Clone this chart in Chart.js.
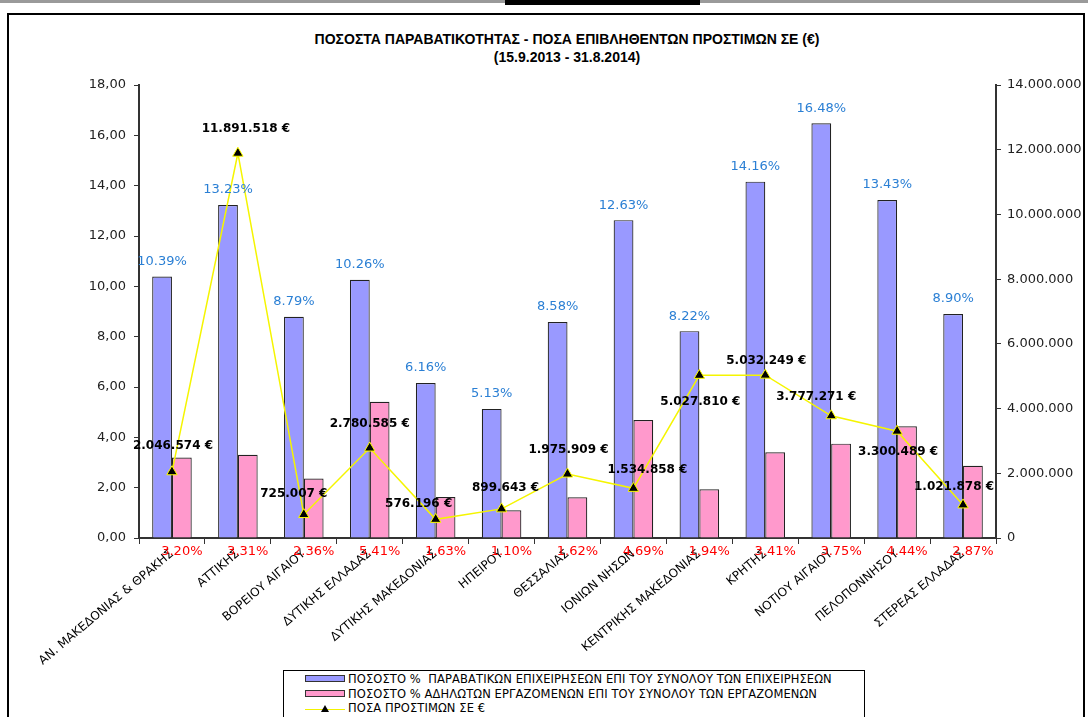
<!DOCTYPE html>
<html>
<head>
<meta charset="utf-8">
<script src="https://cdn.jsdelivr.net/npm/chart.js@4.4.1/dist/chart.umd.min.js"></script>
<style>
  body { margin: 0; background: #fff; width: 1088px; height: 717px; overflow: hidden; position: relative; font-family: "DejaVu Sans", sans-serif; }
  #topline { position: absolute; left: 0; top: 0; width: 1088px; height: 3px; background: #9a9a9a; }
  #tab { position: absolute; left: 505px; top: 0; width: 195px; height: 5px; background: #000; }
  #frame { position: absolute; left: 7px; top: 13px; width: 1074px; height: 720px; border: 2px solid #000; }
  #title { position: absolute; left: 0; top: 30px; width: 1134px; text-align: center; font: bold 14px "Liberation Sans", sans-serif; line-height: 18px; color: #000; }
  canvas { position: absolute; left: 0; top: 0; }
  #legend { position: absolute; left: 283px; top: 670px; width: 580px; height: 60px; border: 1px solid #000; background: #fff; }
  .item { position: absolute; left: 21px; height: 14px; font-size: 11.5px; letter-spacing: 0.1px; line-height: 14px; white-space: pre; color: #000; }
  .swatch { display: inline-block; width: 38px; height: 5px; border: 1px solid #333; vertical-align: middle; margin-right: 3px; position: relative; top: -1px; }
  .lineSw { display: inline-block; width: 40px; height: 14px; vertical-align: middle; margin-right: 3px; position: relative; }
  .lineSw:before { content: ""; position: absolute; left: 0; right: 0; top: 7px; height: 1.5px; background: #f2f200; }
  .lineSw:after { content: ""; position: absolute; left: 16px; top: 3px; width: 0; height: 0; border-left: 4px solid transparent; border-right: 4px solid transparent; border-bottom: 7px solid #000; }
</style>
</head>
<body>
<div id="topline"></div>
<div id="tab"></div>
<div id="frame"></div>
<div id="title">ΠΟΣΟΣΤΑ ΠΑΡΑΒΑΤΙΚΟΤΗΤΑΣ - ΠΟΣΑ ΕΠΙΒΛΗΘΕΝΤΩΝ ΠΡΟΣΤΙΜΩΝ ΣΕ (€)<br>(15.9.2013 - 31.8.2014)</div>
<canvas id="chart" width="1088" height="717"></canvas>
<div id="legend"></div>
<script>
// regions
const regions = [
  "ΑΝ. ΜΑΚΕΔΟΝΙΑΣ & ΘΡΑΚΗΣ", "ΑΤΤΙΚΗΣ", "ΒΟΡΕΙΟΥ ΑΙΓΑΙΟΥ", "ΔΥΤΙΚΗΣ ΕΛΛΑΔΑΣ",
  "ΔΥΤΙΚΗΣ ΜΑΚΕΔΟΝΙΑΣ", "ΗΠΕΙΡΟΥ", "ΘΕΣΣΑΛΙΑΣ", "ΙΟΝΙΩΝ ΝΗΣΩΝ",
  "ΚΕΝΤΡΙΚΗΣ ΜΑΚΕΔΟΝΙΑΣ", "ΚΡΗΤΗΣ", "ΝΟΤΙΟΥ ΑΙΓΑΙΟΥ", "ΠΕΛΟΠΟΝΝΗΣΟΥ", "ΣΤΕΡΕΑΣ ΕΛΛΑΔΑΣ"
];

// series
const violationRate = [10.39, 13.23, 8.79, 10.26, 6.16, 5.13, 8.58, 12.63, 8.22, 14.16, 16.48, 13.43, 8.90];
const undeclaredRate = [3.20, 3.31, 2.36, 5.41, 1.63, 1.10, 1.62, 4.69, 1.94, 3.41, 3.75, 4.44, 2.87];
const fines = [2046574, 11891518, 725007, 2780585, 576196, 899643, 1975909, 1534858, 5027810, 5032249, 3777271, 3300489, 1021878];

const seriesNames = [
  "ΠΟΣΟΣΤΟ %  ΠΑΡΑΒΑΤΙΚΩΝ ΕΠΙΧΕΙΡΗΣΕΩΝ ΕΠΙ ΤΟΥ ΣΥΝΟΛΟΥ ΤΩΝ ΕΠΙΧΕΙΡΗΣΕΩΝ",
  "ΠΟΣΟΣΤΟ % ΑΔΗΛΩΤΩΝ ΕΡΓΑΖΟΜΕΝΩΝ ΕΠΙ ΤΟΥ ΣΥΝΟΛΟΥ ΤΩΝ ΕΡΓΑΖΟΜΕΝΩΝ",
  "ΠΟΣΑ ΠΡΟΣΤΙΜΩΝ ΣΕ €"
];

// axis ranges
const leftMax = 18, leftStep = 2;
const rightMax = 14000000, rightStep = 2000000;

// hand-placed fine labels (dx, dy from the point), like in the original sheet
const fineLabelShift = [
  [1, -26], [8, -24], [-10, -21], [0, -24], [-17, -15], [4, -21], [1, -24],
  [14, -18], [1, 27], [1, -14], [-15, -19], [1, 21], [-9, -18]
];

const dots = (n) => String(Math.round(n)).replace(/\B(?=(\d{3})+(?!\d))/g, ".");
const pct = (v) => v.toFixed(2) + "%";

const valueLabels = {
  id: "valueLabels",
  afterDatasetsDraw(chart) {
    const ctx = chart.ctx;
    ctx.save();
    ctx.textAlign = "center";
    ctx.textBaseline = "middle";

    ctx.font = '13px "DejaVu Sans"';
    ctx.fillStyle = "#2a7fd4";
    chart.getDatasetMeta(0).data.forEach((bar, i) => {
      ctx.fillText(pct(violationRate[i]), bar.x, bar.y - 15);
    });

    ctx.fillStyle = "#ff0000";
    chart.getDatasetMeta(1).data.forEach((bar, i) => {
      ctx.fillText(pct(undeclaredRate[i]), bar.x, chart.chartArea.bottom + 14);
    });

    ctx.font = 'bold 12px "DejaVu Sans"';
    ctx.fillStyle = "#000";
    chart.getDatasetMeta(2).data.forEach((pt, i) => {
      const s = fineLabelShift[i];
      ctx.fillText(dots(fines[i]) + " €", pt.x + s[0], pt.y + s[1]);
    });
    ctx.restore();
  }
};

const axisColor = "#333";
const tickFont = { family: "DejaVu Sans", size: 13 };

new Chart(document.getElementById("chart"), {
  type: "bar",
  data: {
    labels: regions,
    datasets: [
      { label: seriesNames[0], data: violationRate, backgroundColor: "#9999ff", borderColor: "#222", borderWidth: 1.2, yAxisID: "y", order: 2 },
      { label: seriesNames[1], data: undeclaredRate, backgroundColor: "#ff99cc", borderColor: "#222", borderWidth: 1.2, yAxisID: "y", order: 2 },
      {
        type: "line", label: seriesNames[2], data: fines, yAxisID: "y1", order: 1,
        borderColor: "#f5f500", borderWidth: 1.5, tension: 0,
        pointStyle: "triangle", pointRadius: 6, pointBackgroundColor: "#000",
        pointBorderColor: "#ffff00", pointBorderWidth: 1
      }
    ]
  },
  options: {
    responsive: false,
    animation: false,
    layout: { padding: { top: 85, left: 0, right: 0, bottom: 0 } },
    datasets: { bar: { barPercentage: 1, categoryPercentage: 0.6 } },
    plugins: { legend: { display: false }, tooltip: { enabled: false }, title: { display: false } },
    scales: {
      x: {
        afterFit: (s) => { s.height = 179; },
        grid: { drawOnChartArea: false, color: axisColor, tickLength: 6 },
        border: { color: axisColor, width: 2 },
        ticks: { color: "#000", font: { family: "DejaVu Sans", size: 12 }, minRotation: 40, maxRotation: 40, padding: 3, autoSkip: false }
      },
      y: {
        position: "left", min: 0, max: leftMax,
        afterFit: (s) => { s.width = 139; },
        grid: { drawOnChartArea: false, color: axisColor, tickLength: 5 },
        border: { color: axisColor, width: 2 },
        ticks: { stepSize: leftStep, color: "#222", font: tickFont, padding: 8, callback: (v) => v.toFixed(2).replace(".", ",") }
      },
      y1: {
        position: "right", min: 0, max: rightMax,
        afterFit: (s) => { s.width = 92; },
        grid: { drawOnChartArea: false, color: axisColor, tickLength: 5 },
        border: { color: axisColor, width: 2 },
        ticks: { stepSize: rightStep, color: "#222", font: tickFont, padding: 6, callback: (v) => dots(v) }
      }
    }
  },
  plugins: [valueLabels]
});

// legend box
const legend = document.getElementById("legend");
const legendTops = [1, 16, 30];
seriesNames.forEach((name, i) => {
  const row = document.createElement("div");
  row.className = "item";
  row.style.top = legendTops[i] + "px";
  const sw = document.createElement("span");
  if (i < 2) {
    sw.className = "swatch";
    sw.style.background = i === 0 ? "#9999ff" : "#ff99cc";
  } else {
    sw.className = "lineSw";
  }
  row.appendChild(sw);
  row.appendChild(document.createTextNode(name));
  legend.appendChild(row);
});
</script>
</body>
</html>
